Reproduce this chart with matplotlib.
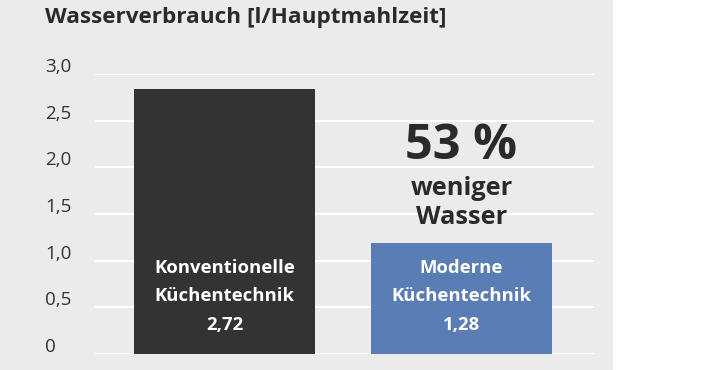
import matplotlib
matplotlib.use("Agg")
import matplotlib.pyplot as plt
from matplotlib.patches import Rectangle
from matplotlib.transforms import ScaledTranslation

plt.rcParams['font.family'] = ['Open Sans', 'DejaVu Sans']

# Data
categories = ["Konventionelle\nKüchentechnik", "Moderne\nKüchentechnik"]
bar_heights = [2.84, 1.19]          # bar heights as drawn in the picture
value_labels = ["2,72", "1,28"]     # printed values
bar_colors = ["#333333", "#5a7db6"]
yticks = [0, 0.5, 1.0, 1.5, 2.0, 2.5, 3.0]
ytick_labels = ["0", "0,5", "1,0", "1,5", "2,0", "2,5", "3,0"]
title = "Wasserverbrauch [l/Hauptmahlzeit]"
note_big = "53 %"
note_small = ["weniger", "Wasser"]

W, H = 725, 370
fig = plt.figure(figsize=(W / 100, H / 100), dpi=100)
fig.patch.set_facecolor("white")
fig.patches.append(Rectangle((0, 0), 613 / W, 1, transform=fig.transFigure,
                             facecolor="#ebebeb", edgecolor="none", zorder=-10))

ax = fig.add_axes([95 / W, 1 - 354 / H, 499 / W, (354 - 74) / H])
ax.set_facecolor("none")
for s in ax.spines.values():
    s.set_visible(False)

x = [0, 1]
ax.bar(x, bar_heights, width=0.764, color=bar_colors, zorder=3)
ax.set_xlim(-0.546, 1.559)
ax.set_ylim(0, 3.0)
ax.set_xticks([])
ax.set_yticks(yticks)
ax.set_yticklabels(ytick_labels, fontsize=13.5, color="#333333", ha="left")
ax.tick_params(axis="y", length=0, pad=50 * 72 / 100)
off = ScaledTranslation(0, 9 / 100, fig.dpi_scale_trans)
for lab in ax.get_yticklabels():
    lab.set_transform(lab.get_transform() + off)
ax.yaxis.grid(True, color="white", linewidth=1.5, zorder=1)
ax.set_axisbelow(True)

px = 1 / 93.3  # data units per pixel
for xi, cat, val in zip(x, categories, value_labels):
    lines = cat.split("\n") + [val]
    for i, ln in enumerate(lines):
        ax.text(xi, (354 - (268 + 28.5 * i)) * px, ln, ha="center", va="center",
                color="white", fontsize=13.3, fontweight="bold", zorder=4)

ax.text(1, (354 - 147) * px, note_big, ha="center", va="center", color="#2a2a2a",
        fontsize=35, fontweight="bold")
for i, ln in enumerate(note_small):
    ax.text(1, (354 - (189 + 29 * i)) * px, ln, ha="center", va="center",
            color="#2a2a2a", fontsize=18.3, fontweight="bold")

fig.text(45 / W, 1 - 18 / H, title, ha="left", va="center", fontsize=16.2,
         fontweight="bold", color="#2a2a2a")

fig.savefig("out.png", dpi=100, facecolor=fig.get_facecolor())
